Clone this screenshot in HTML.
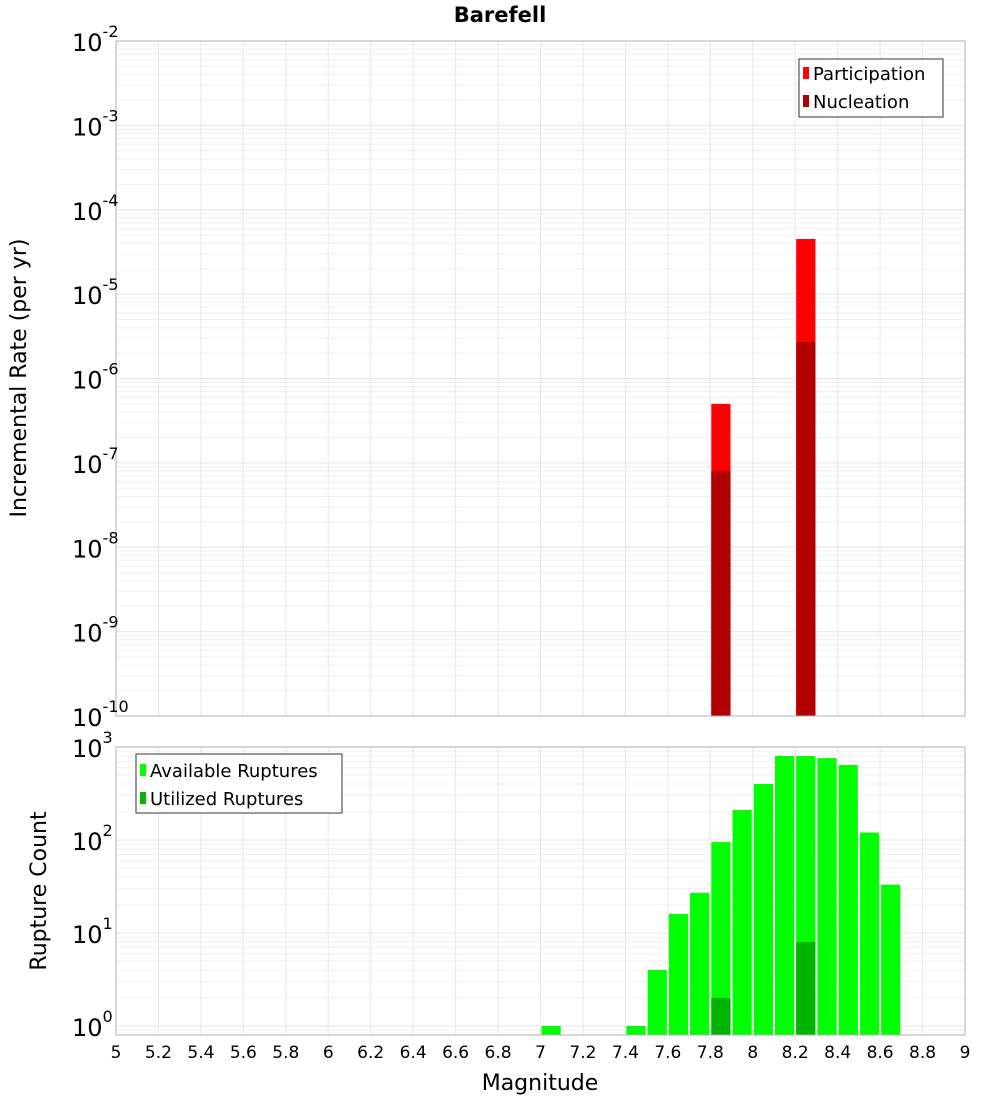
<!DOCTYPE html>
<html><head><meta charset="utf-8"><style>
body{margin:0;background:#fff;font-family:"DejaVu Sans","Liberation Sans",sans-serif}
svg text{font-family:"DejaVu Sans","Liberation Sans",sans-serif}
</style></head><body>
<svg id="c" width="1000" height="1100" xmlns="http://www.w3.org/2000/svg"></svg>
<script>
const topMags=[7.85,8.25];
const participation=[5e-7,4.5e-5];
const nucleation=[8e-8,2.7e-6];
const botMags=[7.05,7.45,7.55,7.65,7.75,7.85,7.95,8.05,8.15,8.25,8.35,8.45,8.55,8.65];
const available=[1,1,4,16,27,95,210,400,800,800,760,640,120,33];
const utilMags=[7.85,8.25];
const utilized=[2,8];
const xTicks=[5,5.2,5.4,5.6,5.8,6,6.2,6.4,6.6,6.8,7,7.2,7.4,7.6,7.8,8,8.2,8.4,8.6,8.8,9];
const topExp=[-2,-3,-4,-5,-6,-7,-8,-9,-10];
const botExp=[3,2,1,0];

const svg=document.getElementById('c');
const NS='http://www.w3.org/2000/svg';
function mk(t,a,p){const e=document.createElementNS(NS,t);for(const k in a)e.setAttribute(k,a[k]);(p||svg).appendChild(e);return e;}
const X0=116,X1=965;
const x=m=>X0+(m-5)/4*(X1-X0);
const T0=41,T1=716;
const yT=v=>T0+(-2-Math.log10(v))/8*(T1-T0);
const B0=747,B1=1035;
const yB=v=>B0+(3-Math.log10(v))*93;

// grids
const g=mk('g',{});


for(let e=-10;e<-2;e++)for(let k=1;k<10;k++){const y=yT(k*Math.pow(10,e));mk('line',{x1:X0,x2:X1,y1:y,y2:y,stroke:k==1?'#e4e4e4':'#efefef','stroke-width':1},g);}
for(let e=-1;e<3;e++)for(let k=1;k<10;k++){const y=yB(k*Math.pow(10,e));if(y<B0||y>B1)continue;mk('line',{x1:X0,x2:X1,y1:y,y2:y,stroke:k==1?'#e4e4e4':'#efefef','stroke-width':1},g);}
xTicks.forEach(m=>{mk('line',{x1:x(m),x2:x(m),y1:T0,y2:T1,stroke:'#e8e8e8'},g);mk('line',{x1:x(m),x2:x(m),y1:B0,y2:B1,stroke:'#e8e8e8'},g);});

// top bars
const bw=0.1*(X1-X0)/4;
topMags.forEach((m,i)=>{
 let r=mk('rect',{x:x(m)-bw/2+1,y:yT(participation[i]),width:bw-2,height:T1-yT(participation[i]),fill:'#ff0000'});
 
 
 r=mk('rect',{x:x(m)-bw/2+1,y:yT(nucleation[i]),width:bw-2,height:T1-yT(nucleation[i]),fill:'#b00000'});
 
 
});
botMags.forEach((m,i)=>{
 const r=mk('rect',{x:x(m)-bw/2+1,y:yB(available[i]),width:bw-2,height:B1-yB(available[i]),fill:'#00ff00'});
 
 
});
utilMags.forEach((m,i)=>{
 const r=mk('rect',{x:x(m)-bw/2+1,y:yB(utilized[i]),width:bw-2,height:B1-yB(utilized[i]),fill:'#00b400'});
 
 
});

// frames
mk('rect',{x:X0,y:T0,width:X1-X0,height:T1-T0,fill:'none',stroke:'#b0b0b0'});
mk('rect',{x:X0,y:B0,width:X1-X0,height:B1-B0,fill:'none',stroke:'#b0b0b0'});

// tick labels
function expLabel(yy,e,name){
 const t=mk('text',{x:104,y:yy+10,'text-anchor':'end','font-size':24});
 
 
 t.appendChild(document.createTextNode('10'));
 const s=mk('tspan',{dy:-14,'font-size':16},t);s.textContent=String(e);
 t.setAttribute('x',72);t.setAttribute('text-anchor','start');
}
topExp.forEach(e=>expLabel(yT(Math.pow(10,e)),e,'y-tick-label'));
botExp.forEach(e=>expLabel(yB(Math.pow(10,e)),e,'y2-tick-label'));
xTicks.forEach(m=>{
 const t=mk('text',{x:x(m),y:1058,'text-anchor':'middle','font-size':17});
 
 
 t.textContent=String(m);
});
</script>
<svg width="1000" height="1100" style="position:absolute;left:0;top:0" xmlns="http://www.w3.org/2000/svg">
<text x="500" y="22" text-anchor="middle" font-size="21" font-weight="bold">Barefell</text>
<text transform="translate(26,378) rotate(-90)" text-anchor="middle" font-size="22">Incremental Rate (per yr)</text>
<text transform="translate(46,891) rotate(-90)" text-anchor="middle" font-size="22">Rupture Count</text>
<text x="540" y="1090" text-anchor="middle" font-size="22">Magnitude</text>
<g>
<rect x="799" y="59" width="144" height="58" fill="#fff" stroke="#333"/>
<rect x="803" y="67" width="6" height="12" fill="#ff0000"/>
<text x="813" y="80" font-size="18">Participation</text>
<rect x="803" y="95" width="6" height="12" fill="#b00000"/>
<text x="813" y="108" font-size="18">Nucleation</text>
</g>
<g>
<rect x="136" y="754" width="206" height="59" fill="#fff" stroke="#333"/>
<rect x="140" y="764" width="6" height="12" fill="#00ff00"/>
<text x="150" y="777" font-size="18">Available Ruptures</text>
<rect x="140" y="792" width="6" height="12" fill="#00b400"/>
<text x="150" y="805" font-size="18">Utilized Ruptures</text>
</g>
</svg>
</body></html>
